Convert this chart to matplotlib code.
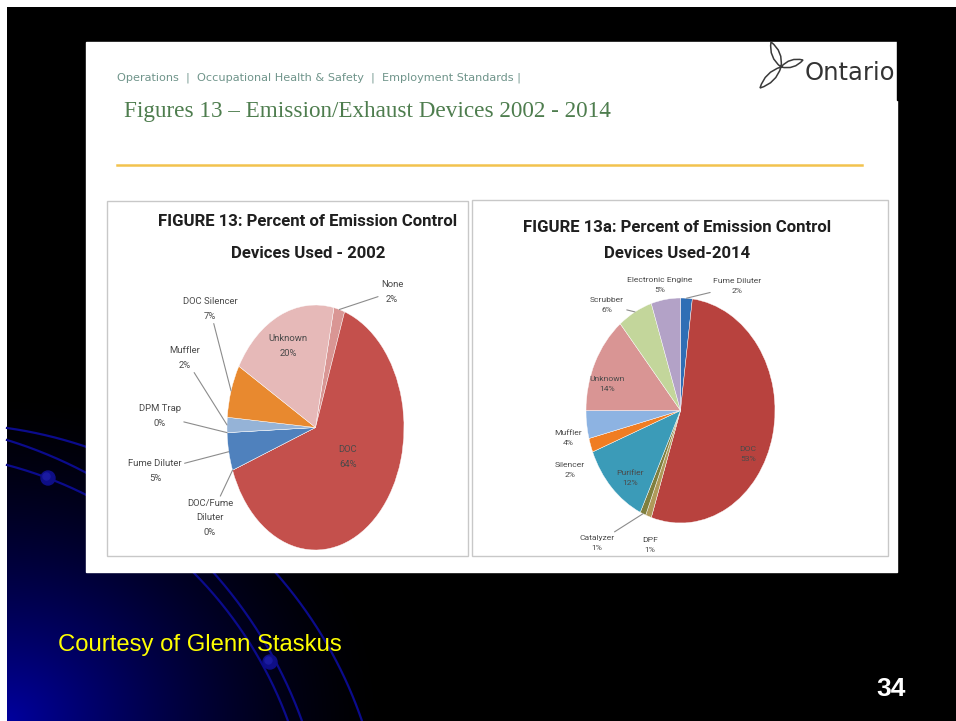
import numpy as np
import matplotlib.pyplot as plt
from matplotlib.patches import Rectangle, Circle, PathPatch
from matplotlib.path import Path

# 2002 survey, in the order the wedges run clockwise
labels_2002 = ['None', 'DOC', 'DOC/Fume\nDiluter', 'Fume Diluter', 'DPM Trap',
               'Muffler', 'DOC Silencer', 'Unknown']
values_2002 = [2, 64, 0, 5, 0, 2, 7, 20]
colors_2002 = ['#D99694', '#C4504C', '#8EA9D0', '#4F81BD', '#B9CDE5',
               '#95B3D7', '#E8892F', '#E6B9B8']

# 2014 survey
labels_2014 = ['Fume Diluter', 'DOC', 'DPF', 'Catalyzer', 'Purifier', 'Silencer',
               'Muffler', 'Unknown', 'Scrubber', 'Electronic Engine']
values_2014 = [2, 53, 1, 1, 12, 2, 4, 14, 6, 5]
colors_2014 = ['#2F6EB5', '#B8423E', '#B09A5A', '#7F7F3F', '#3B9BB8', '#F07D22',
               '#8DB3E2', '#D99594', '#C3D69B', '#B3A2C7']

W, H = 956, 721


def fig_box(x0, y0, x1, y1):
    # pixel box (y down) -> figure fraction rect
    return [x0 / W, 1 - y1 / H, (x1 - x0) / W, (y1 - y0) / H]


def arc_through(p0, p1, p2, n=200):
    (ax_, ay), (bx, by), (cx, cy) = p0, p1, p2
    d = 2 * (ax_ * (by - cy) + bx * (cy - ay) + cx * (ay - by))
    ux = ((ax_**2 + ay**2) * (by - cy) + (bx**2 + by**2) * (cy - ay) + (cx**2 + cy**2) * (ay - by)) / d
    uy = ((ax_**2 + ay**2) * (cx - bx) + (bx**2 + by**2) * (ax_ - cx) + (cx**2 + cy**2) * (bx - ax_)) / d
    r = np.hypot(ax_ - ux, ay - uy)
    t0 = np.arctan2(ay - uy, ax_ - ux)
    t1 = np.arctan2(cy - uy, cx - ux)
    if t1 < t0:
        t1 += 2 * np.pi
    t = np.linspace(t0, t1, n)
    return ux + r * np.cos(t), uy + r * np.sin(t)


def petal(base, tip, w):
    # leaf outline from base to tip and back
    base, tip = np.array(base, float), np.array(tip, float)
    mid = (base + tip) / 2
    v = tip - base
    perp = np.array([-v[1], v[0]]) / np.hypot(*v)
    verts = [base, mid + perp * w, tip, mid - perp * w, base]
    codes = [Path.MOVETO, Path.CURVE3, Path.CURVE3, Path.CURVE3, Path.CURVE3]
    return Path(verts, codes)


fig = plt.figure(figsize=(W / 100, H / 100), dpi=100)
fig.patch.set_facecolor('white')
bg = fig.add_axes([0, 0, 1, 1])
bg.set_xlim(0, W)
bg.set_ylim(H, 0)
bg.axis('off')

# slide background: black with a blue glow in the lower-left corner
xx, yy = np.meshgrid(np.arange(7, W) + 0.5, np.arange(7, H) + 0.5)
dist = np.sqrt(((xx - 7) / 380) ** 2 + ((H - yy) / 330) ** 2)
blue = 0.62 * np.clip(1 - dist, 0, 1) ** 1.5
rgb = np.dstack([np.zeros_like(blue), np.zeros_like(blue), blue])
bg.imshow(rgb, extent=(7, W, H, 7), aspect='auto', zorder=0)

# decorative arcs and beads
for p0, p1, p2 in [((7, 428), (275, 572), (362, 721)),
                   ((7, 440), (213, 572), (302, 721)),
                   ((7, 465), (193, 572), (288, 721))]:
    ax_, ay_ = arc_through(p0, p1, p2)
    bg.plot(ax_, ay_, color='#0B0B8C', lw=1.6, zorder=1)
for cx, cy in [(48, 478), (270, 662)]:
    bg.add_patch(Circle((cx, cy), 7, color='#0E0E86', zorder=2))
    bg.add_patch(Circle((cx - 1.5, cy - 1.5), 3.5, color='#1A1AA0', zorder=2))

# white panel with the report page
bg.add_patch(Rectangle((86, 42), 811, 530, color='white', zorder=3))
bg.text(117, 78, 'Operations  |  Occupational Health & Safety  |  Employment Standards |',
        fontsize=8.1, color='#6F948A', ha='left', va='center', zorder=4)
bg.text(124, 112, 'Figures 13 \u2013 Emission/Exhaust Devices 2002 - 2014',
        fontsize=16.7, color='#4E7D4E', family='Liberation Serif',
        ha='left', va='center', zorder=4)
bg.plot([117, 862], [165, 165], color='#F2C34E', lw=1.8, zorder=4)

# Ontario trillium and wordmark
for tip, w in [((771, 42), 8), ((803, 60), 7), ((760, 88), 8)]:
    bg.add_patch(PathPatch(petal((781, 67), tip, w), fill=False, ec='#3A3A3A',
                           lw=1.1, zorder=4))
bg.text(805, 73, 'Ontario', fontsize=17.5, color='#333333', ha='left',
        va='center', zorder=4)
bg.add_patch(Rectangle((897, 40), 20, 60, color='black', zorder=5))

# chart frames
bg.add_patch(Rectangle((107, 201), 361, 355, fill=False, ec='#C8C8C8', lw=1, zorder=4))
bg.add_patch(Rectangle((472, 200), 416, 356, fill=False, ec='#C8C8C8', lw=1, zorder=4))

title_font = dict(family='Roboto', fontweight='bold', fontsize=12.1, color='#1F1F1F',
                  ha='center', va='center', zorder=4)
bg.text(308, 222, 'FIGURE 13: Percent of Emission Control', **title_font)
bg.text(308, 253, 'Devices Used - 2002', **title_font)
bg.text(677, 227, 'FIGURE 13a: Percent of Emission Control', **title_font)
bg.text(677, 253, 'Devices Used-2014', **title_font)

# footer
bg.text(58, 645, 'Courtesy of Glenn Staskus', fontsize=17.2, color='#FFFF00',
        family='Liberation Sans', ha='left', va='center', zorder=4)
bg.text(891, 689, '34', fontsize=19, color='white', fontweight='bold',
        family='Liberation Sans', ha='center', va='center', zorder=4)

# label placement (pixel coords) and whether a leader line is drawn
pos_2002 = [(392, 292, True), (348, 457, False), (210, 518, True), (155, 471, True),
            (160, 416, True), (185, 358, True), (210, 309, True), (288, 346, False)]
pos_2014 = [(737, 286, True), (748, 454, False), (650, 545, False), (597, 543, True),
            (630, 478, False), (570, 470, False), (568, 438, False), (607, 384, False),
            (607, 305, True), (660, 285, False)]


def draw_pie(rect, labels, values, colors, start, positions, fs, spacing):
    ax = fig.add_axes(rect)
    wedges, _ = ax.pie(values, colors=colors, startangle=start, counterclock=False,
                       wedgeprops=dict(edgecolor='white', linewidth=0.3))
    ax.set_xlim(-1, 1)
    ax.set_ylim(-1, 1)
    ax.set_aspect('auto')
    for w, lab, val, (px, py, leader) in zip(wedges, labels, values, positions):
        mid = np.deg2rad((w.theta1 + w.theta2) / 2)
        kw = dict(textcoords=bg.transData, ha='center', va='center', fontsize=fs,
                  color='#4A4A4A', annotation_clip=False, family='Roboto',
                  linespacing=spacing)
        if leader:
            kw['arrowprops'] = dict(arrowstyle='-', color='#8C8C8C', lw=0.8,
                                    shrinkA=0, shrinkB=0)
        ax.annotate(f'{lab}\n{val}%', xy=(np.cos(mid), np.sin(mid)),
                    xytext=(px, py), **kw)
    return ax


draw_pie(fig_box(227, 305, 404, 550), labels_2002, values_2002, colors_2002, 78,
         pos_2002, 6.8, 1.8)
draw_pie(fig_box(586, 298, 775, 523), labels_2014, values_2014, colors_2014, 90,
         pos_2014, 6.1, 1.95)

fig.savefig('out.png', dpi=100)
